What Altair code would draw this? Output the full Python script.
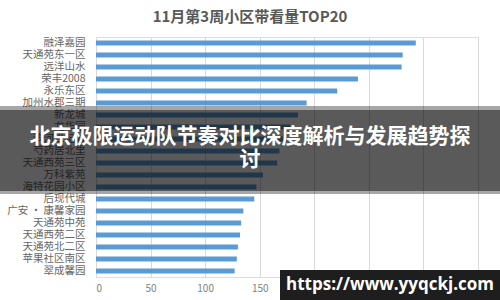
import altair as alt
import pandas as pd

communities = ["融泽嘉园", "天通苑东一区", "远洋山水", "荣丰2008", "永乐东区", "加州水郡三期",
               "新龙城", "龙华园", "滨河世纪城", "芍药居北里", "天通西苑三区", "万科紫苑",
               "海特花园小区", "后现代城", "广安 · 康馨家园", "天通苑中苑", "天通西苑二区",
               "天通苑北二区", "苹果社区南区", "翠成馨园"]
visits = [293, 281, 280, 240, 221, 193, 185, 178, 172, 168, 166, 153,
          147, 145, 135, 133, 132, 130, 129, 127]
x_ticks = [0, 50, 100, 150, 200, 250, 300, 350]

title_text = "11月第3周小区带看量TOP20"
banner_lines = ["北京极限运动队节奏对比深度解析与发展趋势探", "讨"]
watermark = "https://www.yyqckj.com"

FONT = "Noto Sans CJK SC"
df = pd.DataFrame({"name": communities, "v": visits})

bars = alt.Chart(df).mark_bar(color="#5b9bd5", size=5).encode(
    x=alt.X("v:Q", scale=alt.Scale(domain=[0, 350], nice=False),
            axis=alt.Axis(values=x_ticks, title=None, grid=True, gridColor="#d9d9d9",
                          domain=False, ticks=False, labelColor="#7f7f7f",
                          labelExpr="datum.value <= 150 ? datum.label : ''",
                          labelFontSize=10, labelFont=FONT, labelPadding=6)),
    y=alt.Y("name:N", sort=communities,
            axis=alt.Axis(title=None, domain=True, domainColor="#d9d9d9", ticks=False,
                          labelColor="#666666", labelFontSize=10.5, labelFont=FONT,
                          labelPadding=11)),
)

band_df = pd.DataFrame({"a": [0]})
outer = alt.Chart(band_df).mark_rect(color="black", opacity=0.35).encode(
    x=alt.value(-96), x2=alt.value(404), y=alt.value(69), y2=alt.value(157))
inner = alt.Chart(band_df).mark_rect(color="black", opacity=0.46).encode(
    x=alt.value(-96), x2=alt.value(404), y=alt.value(73), y2=alt.value(154))

line_df = pd.DataFrame({"t": banner_lines, "yy": [100, 123]})
banner = alt.Chart(line_df).mark_text(color="white", fontSize=21, fontWeight="bold",
                                      font=FONT, align="center", baseline="middle").encode(
    x=alt.value(154), y=alt.Y("yy:Q", scale=None), text="t:N")

wm_box = alt.Chart(band_df).mark_rect(color="#1e1e1e").encode(
    x=alt.value(184), x2=alt.value(404), y=alt.value(233), y2=alt.value(263))
wm_text = alt.Chart(pd.DataFrame({"t": [watermark]})).mark_text(
    color="white", fontSize=17, fontWeight="bold", font="Open Sans",
    align="center", baseline="middle").encode(
    x=alt.value(294), y=alt.value(248), text="t:N")

title_df = pd.DataFrame({"t": [title_text]})
title = alt.Chart(title_df).mark_text(color="#595959", fontSize=15, fontWeight="bold",
                                      font=FONT, align="center", baseline="middle").encode(
    x=alt.value(154), y=alt.value(-20), text="t:N")

chart = alt.layer(bars, title, outer, inner, banner, wm_box, wm_text).properties(
    width=382, height=240,
    autosize=alt.AutoSizeParams(type="none"),
    padding={"left": 96, "top": 37, "right": 22, "bottom": 23},
).configure_view(stroke=None).configure(background="white")

chart.save("out.html", embed_options={"renderer": "svg", "actions": False})
